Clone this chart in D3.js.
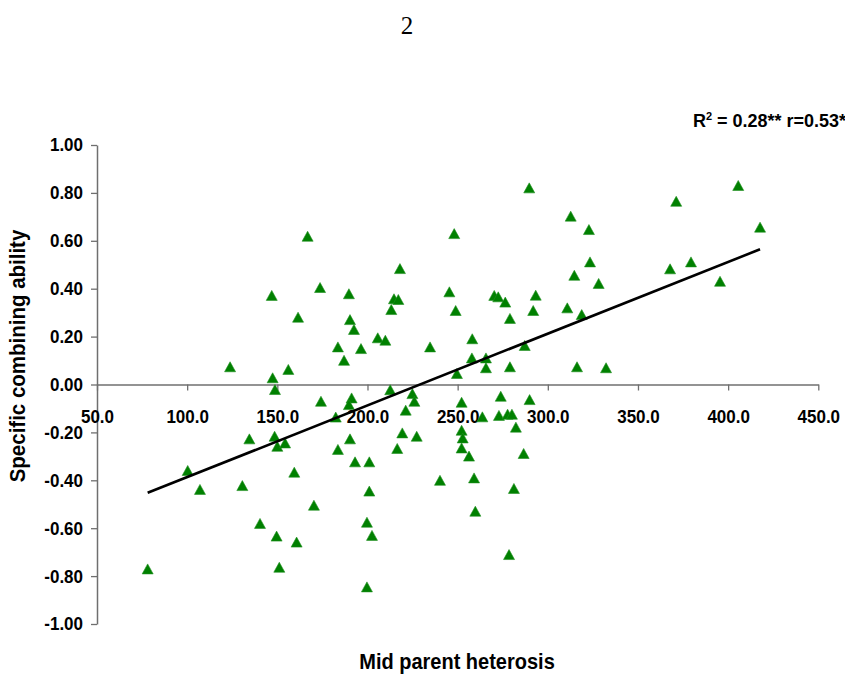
<!DOCTYPE html>
<html>
<head>
<meta charset="utf-8">
<script src="https://cdn.jsdelivr.net/npm/d3@7"></script>
<style>
  html, body { margin: 0; padding: 0; background: #ffffff; }
  svg { display: block; }
  text { font-family: "Liberation Sans", Arial, sans-serif; font-weight: bold; fill: #000; }
</style>
</head>
<body>
<svg id="chart" width="845" height="679"></svg>
<script>
// Mid parent heterosis (x) against specific combining ability (y) for each cross
const heterosis = [
  78.1, 100.3, 107.1, 123.8, 130.6, 134.5, 140.4, 146.9, 147.4, 148.7,
  148.5, 150.0, 154.3, 149.6, 151.1, 156.1, 159.4, 160.7, 161.5, 166.8,
  170.3, 173.7, 174.2, 182.4, 183.6, 183.6, 187.0, 189.7, 190.3, 192.5,
  191.2, 189.7, 190.3, 193.1, 196.4, 199.7, 199.7, 201.0, 201.0, 202.5,
  205.7, 209.9, 212.6, 213.2, 214.7, 217.1, 218.0, 216.5, 219.3, 221.2,
  224.9, 226.0, 227.3, 234.7, 240.2, 245.4, 248.1, 248.9, 249.6, 252.2,
  252.2, 252.8, 252.2, 256.3, 257.9, 258.1, 259.1, 259.8, 263.7, 265.7,
  265.7, 270.3, 272.5, 272.9, 273.9, 276.4, 277.7, 278.5, 279.0, 279.0,
  280.1, 281.2, 282.3, 286.6, 287.2, 289.7, 289.9, 291.9, 293.3, 310.8,
  312.7, 314.7, 316.2, 318.8, 322.8, 323.4, 328.2, 332.3, 367.8, 371.2,
  379.4, 395.5, 405.6, 417.7
];
const sca = [
  -0.770, -0.359, -0.438, 0.074, -0.422, -0.227, -0.580, 0.372, 0.028, -0.021,
  -0.216, -0.258, -0.244, -0.633, -0.763, 0.063, -0.366, -0.658, 0.281, 0.619,
  -0.504, 0.405, -0.070, -0.136, 0.157, -0.271, 0.101, 0.379, 0.271, 0.230,
  -0.056, -0.084, -0.227, -0.323, 0.150, -0.575, -0.845, -0.323, -0.445, -0.630,
  0.195, 0.185, -0.022, 0.313, 0.358, 0.355, 0.484, -0.267, -0.202, -0.107,
  -0.038, -0.070, -0.216, 0.157, -0.400, 0.387, 0.630, 0.309, 0.046, -0.074,
  -0.191, -0.223, -0.265, -0.299, 0.111, 0.191, -0.390, -0.529, -0.135, 0.111,
  0.070, 0.372, 0.366, -0.129, -0.049, 0.344, -0.124, -0.710, 0.276, 0.074,
  -0.124, -0.434, -0.178, -0.288, 0.163, 0.821, -0.063, 0.309, 0.373, 0.320,
  0.703, 0.456, 0.074, 0.292, 0.647, 0.512, 0.422, 0.070, 0.483, 0.765,
  0.512, 0.431, 0.831, 0.657
];

// Axis ticks and their printed labels
const xTicks = [50, 100, 150, 200, 250, 300, 350, 400, 450];
const xTickLabels = ["50.0", "100.0", "150.0", "200.0", "250.0", "300.0", "350.0", "400.0", "450.0"];
const yTicks = [-1, -0.8, -0.6, -0.4, -0.2, 0, 0.2, 0.4, 0.6, 0.8, 1];
const yTickLabels = ["-1.00", "-0.80", "-0.60", "-0.40", "-0.20", "0.00", "0.20", "0.40", "0.60", "0.80", "1.00"];

const pageNumber = "2";
const xTitle = "Mid parent heterosis";
const yTitle = "Specific combining ability";
const fitNote = { r2: "0.28**", r: "0.53*" };

const points = heterosis.map((h, i) => ({ x: h, y: sca[i] }));

const svg = d3.select("#chart");

const x = d3.scaleLinear().domain([50, 450]).range([97, 818.3]);
const y = d3.scaleLinear().domain([-1, 1]).range([624, 145]);

// Labels are set slightly taller than they are wide
const stretch = 1.1;

// Page number above the figure
svg.append("text")
  .attr("x", 407).attr("y", 34)
  .attr("text-anchor", "middle")
  .style("font-family", "'Liberation Serif', 'Times New Roman', serif")
  .style("font-weight", "normal")
  .style("font-size", "25px")
  .text(pageNumber);

const axisColor = "#6f6f6f";

// Y axis
const yAxis = svg.append("g")
  .attr("transform", `translate(${x(50)},0)`)
  .call(d3.axisLeft(y).tickValues(yTicks).tickSize(6).tickSizeOuter(0)
    .tickFormat((d, i) => yTickLabels[i]));
yAxis.select(".domain").attr("stroke", axisColor).attr("stroke-width", 1.5);
yAxis.selectAll(".tick line").attr("stroke", axisColor).attr("stroke-width", 1.3);
yAxis.selectAll(".tick text")
  .attr("x", -14)
  .attr("transform", `scale(1,${stretch})`)
  .style("font-size", "17px")
  .style("font-family", "'Liberation Sans', Arial, sans-serif")
  .style("font-weight", "bold")
  .attr("fill", "#000");

// X axis crossing at zero
const xAxis = svg.append("g")
  .attr("transform", `translate(0,${y(0)})`)
  .call(d3.axisBottom(x).tickValues(xTicks).tickSize(6).tickSizeOuter(0)
    .tickFormat((d, i) => xTickLabels[i]));
xAxis.select(".domain").attr("stroke", axisColor).attr("stroke-width", 1.5);
xAxis.selectAll(".tick line").attr("stroke", axisColor).attr("stroke-width", 1.3);
xAxis.selectAll(".tick text")
  .attr("y", 39 / stretch).attr("dy", 0)
  .attr("transform", `scale(1,${stretch})`)
  .style("font-size", "17px")
  .style("font-family", "'Liberation Sans', Arial, sans-serif")
  .style("font-weight", "bold")
  .attr("fill", "#000");

// Triangle markers
const tw = 11, th = 10;
const tri = d3.line();
svg.append("g")
  .selectAll("path")
  .data(points)
  .join("path")
  .attr("transform", d => `translate(${x(d.x)},${y(d.y)})`)
  .attr("d", tri([[0, -th / 2], [tw / 2, th / 2], [-tw / 2, th / 2]]) + "Z")
  .attr("fill", "#008000")
  .attr("stroke", "#1f8f1f")
  .attr("stroke-width", 0.6);

// Least-squares trend line over the data range
const mx = d3.mean(points, d => d.x);
const my = d3.mean(points, d => d.y);
const sxy = d3.sum(points, d => (d.x - mx) * (d.y - my));
const sxx = d3.sum(points, d => (d.x - mx) ** 2);
const slope = sxy / sxx;
const intercept = my - slope * mx;
const [x0, x1] = d3.extent(points, d => d.x);
svg.append("path")
  .attr("d", d3.line().x(d => x(d)).y(d => y(intercept + slope * d))([x0, x1]))
  .attr("stroke", "#000")
  .attr("stroke-width", 2.6)
  .attr("fill", "none");

// Fit statistics
const note = svg.append("text")
  .attr("transform", `translate(693,127) scale(1,1.05)`)
  .style("font-size", "18px");
note.append("tspan").text("R");
note.append("tspan").attr("dy", -7).style("font-size", "11px").text("2");
note.append("tspan").attr("dy", 7).text(` = ${fitNote.r2} r=${fitNote.r}`);

// Axis titles
svg.append("text")
  .attr("transform", `translate(457,669) scale(1,${stretch})`)
  .attr("text-anchor", "middle")
  .style("font-size", "20px")
  .text(xTitle);

svg.append("text")
  .attr("transform", `translate(25,356) rotate(-90) scale(1,${stretch})`)
  .attr("text-anchor", "middle")
  .style("font-size", "20.5px")
  .text(yTitle);
</script>
</body>
</html>
